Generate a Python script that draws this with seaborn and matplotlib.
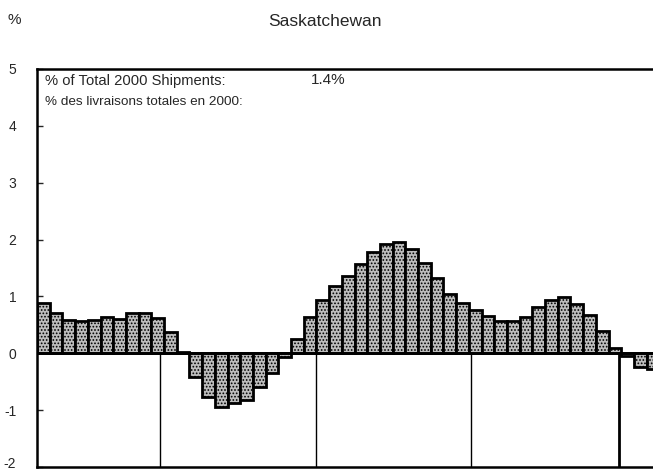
import matplotlib
matplotlib.use('Agg')
import matplotlib.pyplot as plt
import matplotlib.transforms as mtrans
import seaborn as sb
import numpy as np
import pandas as pd

# monthly % change
values = [0.88, 0.71, 0.59, 0.56, 0.58, 0.64, 0.60, 0.71, 0.71, 0.62, 0.38, 0.02,
          -0.41, -0.77, -0.94, -0.88, -0.82, -0.59, -0.35, -0.06,
          0.25, 0.63, 0.94, 1.19, 1.36, 1.57, 1.78, 1.93, 1.95, 1.84, 1.59, 1.32,
          1.05, 0.89, 0.76, 0.66, 0.56, 0.56, 0.64, 0.81, 0.94, 0.99, 0.87, 0.68,
          0.39, 0.09, -0.05, -0.24, -0.28]
periods = list(range(len(values)))
year_marks = [9.2, 21.45, 33.65, 45.3]
yticks = [-2, -1, 0, 1, 2, 3, 4, 5]
title = 'Saskatchewan'
share_en = '% of Total 2000 Shipments:'
share_fr = '% des livraisons totales en 2000:'
share_val = '1.4%'

sb.set_style('white')
plt.rcParams['font.family'] = ['Liberation Sans', 'DejaVu Sans']
plt.rcParams['hatch.linewidth'] = 0.8

fig = plt.figure(figsize=(6.53, 4.72), dpi=100)
ax = fig.add_axes([37/653, 5/472, 616/653, 398/472])

df = pd.DataFrame({'period': periods, 'value': values})
sb.barplot(data=df, x='period', y='value', width=1, color='#bdbdbd',
           edgecolor='black', linewidth=2.0, hatch='.....', ax=ax)

ax.axhline(0, color='black', lw=2.0, zorder=3)
for xm in year_marks:
    ax.plot([xm, xm], [-2, 0], color='black', lw=1.0 if xm < 45 else 2.0)

ax.set_xlim(-0.5, 48.0)
ax.set_ylim(-2, 5)
ax.set_yticks(yticks)
ax.set_yticklabels([str(t) for t in yticks], fontsize=10)
ax.set_xticks([])
ax.set_xlabel('')
ax.set_ylabel('')
ax.tick_params(axis='y', direction='in', length=4, width=1, pad=15, left=True)
# keep the lowest label inside the figure
low = ax.get_yticklabels()[0]
low.set_transform(low.get_transform() + mtrans.ScaledTranslation(0, 3/72, fig.dpi_scale_trans))
for s in ['left', 'top', 'bottom']:
    ax.spines[s].set_visible(True)
    ax.spines[s].set_color('black')
    ax.spines[s].set_linewidth(1.8)
ax.spines['right'].set_visible(False)

fig.text(8/653, 1 - 20/472, '%', fontsize=11, ha='left', va='center')
fig.text(325/653, 1 - 21/472, title, fontsize=12.5, ha='center', va='center')
fig.text(45/653, 1 - 81/472, share_en, fontsize=10.6, va='center')
fig.text(311/653, 1 - 80/472, share_val, fontsize=11, va='center')
fig.text(45/653, 1 - 102/472, share_fr, fontsize=9.7, va='center')

fig.savefig('out.png', dpi=100)
